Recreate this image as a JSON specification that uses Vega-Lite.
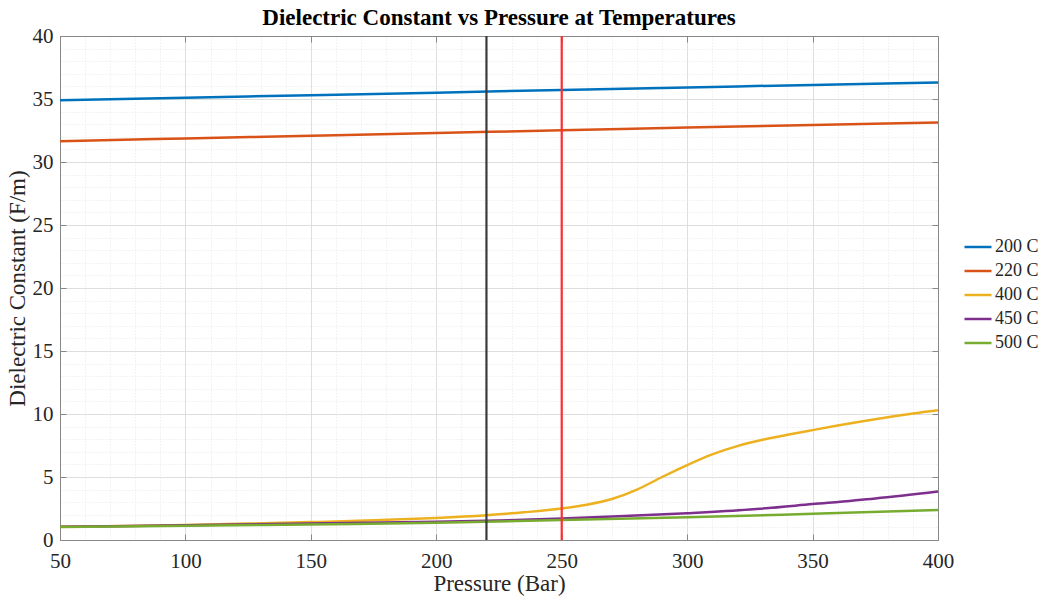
{
  "$schema": "https://vega.github.io/schema/vega-lite/v6.json",
  "autosize": {"type": "none"},
  "padding": {"left": 60, "top": 36, "right": 101, "bottom": 57},
  "width": 878,
  "height": 504,
  "background": "white",
  "title": {"text": "Dielectric Constant vs Pressure at Temperatures", "font": "Liberation Serif", "fontSize": 23, "fontWeight": "bold", "color": "#000000", "offset": -5, "anchor": "middle"},
  "config": {
    "view": {"stroke": null},
    "axis": {"labelFont": "Liberation Serif", "titleFont": "Liberation Serif", "labelFontSize": 21, "titleFontSize": 23, "titleFontWeight": "normal", "labelColor": "#262626", "titleColor": "#262626", "domainColor": "#888888", "tickColor": "#888888", "labelFlush": false},
    "legend": {"labelFont": "Liberation Serif", "labelFontSize": 18, "labelColor": "#262626"}
  },
  "datasets": {
    "curves": [
      {"P": 50, "eps": 34.9, "T": "200 C"}, {"P": 100, "eps": 35.1, "T": "200 C"}, {"P": 150, "eps": 35.3, "T": "200 C"}, {"P": 200, "eps": 35.5, "T": "200 C"}, {"P": 250, "eps": 35.72, "T": "200 C"}, {"P": 300, "eps": 35.92, "T": "200 C"}, {"P": 350, "eps": 36.12, "T": "200 C"}, {"P": 400, "eps": 36.3, "T": "200 C"},
      {"P": 50, "eps": 31.65, "T": "220 C"}, {"P": 100, "eps": 31.87, "T": "220 C"}, {"P": 150, "eps": 32.08, "T": "220 C"}, {"P": 200, "eps": 32.3, "T": "220 C"}, {"P": 250, "eps": 32.52, "T": "220 C"}, {"P": 300, "eps": 32.73, "T": "220 C"}, {"P": 350, "eps": 32.94, "T": "220 C"}, {"P": 400, "eps": 33.13, "T": "220 C"},
      {"P": 50, "eps": 1.05, "T": "400 C"}, {"P": 75, "eps": 1.12, "T": "400 C"}, {"P": 100, "eps": 1.2, "T": "400 C"}, {"P": 125, "eps": 1.3, "T": "400 C"}, {"P": 150, "eps": 1.42, "T": "400 C"}, {"P": 175, "eps": 1.56, "T": "400 C"}, {"P": 200, "eps": 1.75, "T": "400 C"}, {"P": 220, "eps": 1.97, "T": "400 C"}, {"P": 235, "eps": 2.2, "T": "400 C"}, {"P": 250, "eps": 2.5, "T": "400 C"}, {"P": 260, "eps": 2.8, "T": "400 C"}, {"P": 270, "eps": 3.25, "T": "400 C"}, {"P": 280, "eps": 4.0, "T": "400 C"}, {"P": 290, "eps": 5.0, "T": "400 C"}, {"P": 300, "eps": 5.95, "T": "400 C"}, {"P": 310, "eps": 6.8, "T": "400 C"}, {"P": 320, "eps": 7.45, "T": "400 C"}, {"P": 330, "eps": 7.95, "T": "400 C"}, {"P": 340, "eps": 8.35, "T": "400 C"}, {"P": 350, "eps": 8.72, "T": "400 C"}, {"P": 360, "eps": 9.08, "T": "400 C"}, {"P": 370, "eps": 9.42, "T": "400 C"}, {"P": 380, "eps": 9.74, "T": "400 C"}, {"P": 390, "eps": 10.04, "T": "400 C"}, {"P": 400, "eps": 10.3, "T": "400 C"},
      {"P": 50, "eps": 1.05, "T": "450 C"}, {"P": 100, "eps": 1.17, "T": "450 C"}, {"P": 150, "eps": 1.3, "T": "450 C"}, {"P": 200, "eps": 1.45, "T": "450 C"}, {"P": 225, "eps": 1.55, "T": "450 C"}, {"P": 250, "eps": 1.7, "T": "450 C"}, {"P": 275, "eps": 1.9, "T": "450 C"}, {"P": 300, "eps": 2.13, "T": "450 C"}, {"P": 325, "eps": 2.42, "T": "450 C"}, {"P": 350, "eps": 2.85, "T": "450 C"}, {"P": 375, "eps": 3.3, "T": "450 C"}, {"P": 400, "eps": 3.85, "T": "450 C"},
      {"P": 50, "eps": 1.03, "T": "500 C"}, {"P": 100, "eps": 1.13, "T": "500 C"}, {"P": 150, "eps": 1.24, "T": "500 C"}, {"P": 200, "eps": 1.36, "T": "500 C"}, {"P": 250, "eps": 1.58, "T": "500 C"}, {"P": 300, "eps": 1.8, "T": "500 C"}, {"P": 350, "eps": 2.08, "T": "500 C"}, {"P": 400, "eps": 2.38, "T": "500 C"}
    ],
    "vlines": [
      {"P": 220, "kind": "black"},
      {"P": 250, "kind": "red"}
    ]
  },
  "layer": [
    {
      "data": {"name": "curves"},
      "mark": {"type": "line", "strokeOpacity": 0},
      "encoding": {
        "x": {"field": "P", "type": "quantitative", "scale": {"domain": [50, 400], "nice": false, "zero": false},
          "axis": {"orient": "bottom", "values": [60,70,80,90,110,120,130,140,160,170,180,190,210,220,230,240,260,270,280,290,310,320,330,340,360,370,380,390], "grid": true, "gridColor": "#e6e6e6", "gridDash": [1, 2], "domain": false, "ticks": false, "labels": false, "title": null}},
        "y": {"field": "eps", "type": "quantitative", "scale": {"domain": [0, 40], "nice": false},
          "axis": {"orient": "left", "values": [1,2,3,4,6,7,8,9,11,12,13,14,16,17,18,19,21,22,23,24,26,27,28,29,31,32,33,34,36,37,38,39], "grid": true, "gridColor": "#e6e6e6", "gridDash": [1, 2], "domain": false, "ticks": false, "labels": false, "title": null}},
        "detail": {"field": "T"}
      }
    },
    {
      "data": {"name": "curves"},
      "mark": {"type": "line", "strokeOpacity": 0},
      "encoding": {
        "x": {"field": "P", "type": "quantitative",
          "axis": {"orient": "top", "values": [50,100,150,200,250,300,350,400], "grid": false, "labels": false, "tickSize": -6, "domain": true, "title": null}},
        "y": {"field": "eps", "type": "quantitative",
          "axis": {"orient": "right", "values": [0,5,10,15,20,25,30,35,40], "grid": false, "labels": false, "tickSize": -6, "domain": true, "title": null}},
        "detail": {"field": "T"}
      }
    },
    {
      "data": {"name": "curves"},
      "mark": {"type": "line", "strokeWidth": 2.5, "interpolate": "monotone"},
      "encoding": {
        "x": {"field": "P", "type": "quantitative",
          "axis": {"orient": "bottom", "values": [50,100,150,200,250,300,350,400], "grid": true, "gridColor": "#dedede", "tickSize": -6, "labelPadding": 16, "title": "Pressure (Bar)", "titlePadding": 1}},
        "y": {"field": "eps", "type": "quantitative",
          "axis": {"orient": "left", "values": [0,5,10,15,20,25,30,35,40], "grid": true, "gridColor": "#dedede", "tickSize": -6, "labelPadding": 13, "title": "Dielectric Constant (F/m)", "titlePadding": 3}},
        "color": {"field": "T", "type": "nominal", "title": null,
          "scale": {"domain": ["200 C", "220 C", "400 C", "450 C", "500 C"], "range": ["#0072BD", "#D95319", "#EDB120", "#7E2F8E", "#77AC30"]},
          "legend": {"orient": "none", "legendX": 903, "legendY": 196, "symbolType": "stroke", "symbolSize": 729, "symbolStrokeWidth": 2.5, "padding": 0, "rowPadding": -5, "labelOffset": 2, "labelFont": "Liberation Serif", "labelFontSize": 18, "labelColor": "#262626"}}
      }
    },
    {
      "data": {"name": "vlines"},
      "mark": {"type": "rule", "strokeWidth": 2.2},
      "encoding": {
        "x": {"field": "P", "type": "quantitative", "axis": null},
        "color": {"field": "kind", "type": "nominal", "scale": {"domain": ["black", "red"], "range": ["#3a3a3a", "#ff3030"]}, "legend": null}
      }
    }
  ],
  "resolve": {"axis": {"x": "independent", "y": "independent"}, "scale": {"color": "independent"}}
}
